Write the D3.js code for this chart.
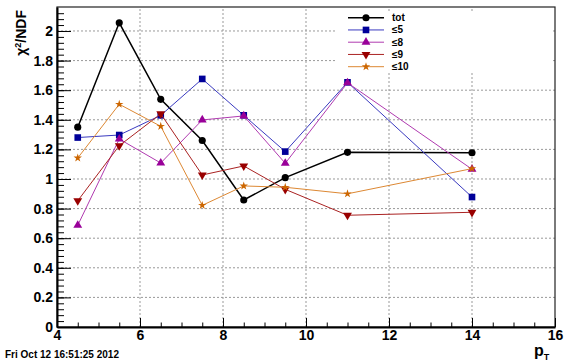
<!DOCTYPE html>
<html>
<head>
<meta charset="utf-8">
<script src="https://cdn.jsdelivr.net/npm/d3@7"></script>
<style>
  body { margin: 0; background: #fff; }
  svg { display: block; font-family: "Liberation Sans", Arial, sans-serif; }
</style>
</head>
<body>
<div id="chart"></div>
<script>
var pt = [4.5, 5.5, 6.5, 7.5, 8.5, 9.5, 11, 14];
var tot = [1.35, 2.055, 1.538, 1.26, 0.858, 1.009, 1.18, 1.177];
var le5 = [1.28, 1.297, 1.43, 1.676, 1.43, 1.185, 1.653, 0.878];
var le8 = [0.687, 1.27, 1.108, 1.399, 1.426, 1.106, 1.65, 1.066];
var le9 = [0.853, 1.225, 1.44, 1.027, 1.088, 0.93, 0.755, 0.775];
var le10 = [1.142, 1.505, 1.356, 0.822, 0.953, 0.944, 0.90, 1.07];
var seriesNames = ["tot", "\u22645", "\u22648", "\u22649", "\u226410"];
var xTicks = [4, 6, 8, 10, 12, 14, 16];
var yTicks = [0, 0.2, 0.4, 0.6, 0.8, 1, 1.2, 1.4, 1.6, 1.8, 2];

var width = 567, height = 364;
var series = [
  {name: seriesNames[0], v: tot,  color: "#000000", line: "#000000", lw: 1.5, sym: d3.symbolCircle, size: 40},
  {name: seriesNames[1], v: le5,  color: "#000099", line: "#3a3ac0", lw: 1,   sym: d3.symbolSquare, size: 44},
  {name: seriesNames[2], v: le8,  color: "#990099", line: "#b03ab0", lw: 1,   sym: d3.symbolTriangle, size: 34},
  {name: seriesNames[3], v: le9,  color: "#990000", line: "#aa2222", lw: 1,   sym: "down", size: 34},
  {name: seriesNames[4], v: le10, color: "#cc6600", line: "#dd8833", lw: 1,   sym: d3.symbolStar, size: 22}
];

var svg = d3.select("#chart")
  .append("svg")
    .attr("width", width)
    .attr("height", height);

var x = d3.scaleLinear().domain([4, 16]).range([57, 555]);
var y = d3.scaleLinear().domain([0, 2.162]).range([327, 7]);

// grid
svg.append("g").selectAll("line")
  .data(xTicks.slice(1, -1))
  .join("line")
    .attr("x1", d => x(d)).attr("x2", d => x(d))
    .attr("y1", y.range()[0]).attr("y2", y.range()[1])
    .attr("stroke", "#999").attr("stroke-dasharray", "2,2");
svg.append("g").selectAll("line")
  .data(yTicks.slice(1))
  .join("line")
    .attr("y1", d => y(d)).attr("y2", d => y(d))
    .attr("x1", x.range()[0]).attr("x2", x.range()[1])
    .attr("stroke", "#999").attr("stroke-dasharray", "2,2");

// frame
svg.append("rect")
  .attr("x", x(4)).attr("y", y.range()[1])
  .attr("width", x(16) - x(4)).attr("height", y(0) - y.range()[1])
  .attr("fill", "none").attr("stroke", "#222").attr("stroke-width", 1.2);

// axes: ticks inside the frame, ROOT style
var xMinor = d3.range(4, 16.01, 0.5);
svg.append("g")
  .attr("transform", "translate(0," + y(0) + ")")
  .call(d3.axisBottom(x).tickValues(xMinor).tickSize(-4.5).tickSizeOuter(0).tickFormat(""))
  .call(g => g.select(".domain").attr("stroke-width", 2));
svg.append("g")
  .attr("transform", "translate(0," + y(0) + ")")
  .call(d3.axisBottom(x).tickValues(xTicks).tickSize(-9).tickSizeOuter(0).tickPadding(3))
  .call(g => g.select(".domain").remove())
  .call(g => g.selectAll("text").attr("font-size", 14).attr("font-weight", "bold").attr("fill", "#000"));

var yMinor = d3.range(0, 2.16, 0.04);
svg.append("g")
  .attr("transform", "translate(" + x(4) + ",0)")
  .call(d3.axisLeft(y).tickValues(yMinor).tickSize(-7).tickSizeOuter(0).tickFormat(""))
  .call(g => g.select(".domain").attr("stroke-width", 2));
svg.append("g")
  .attr("transform", "translate(" + x(4) + ",0)")
  .call(d3.axisLeft(y).tickValues(yTicks).tickSize(-14).tickSizeOuter(0).tickPadding(4).tickFormat(d3.format("")))
  .call(g => g.select(".domain").remove())
  .call(g => g.selectAll("text").attr("font-size", 14).attr("font-weight", "bold").attr("fill", "#000"));

// series
function marker(sel, s) {
  if (s.sym === "down") {
    sel.attr("d", d3.symbol(d3.symbolTriangle, s.size)()).attr("transform", function() {
      return d3.select(this).attr("transform") + " rotate(180)";
    });
  } else {
    sel.attr("d", d3.symbol(s.sym, s.size)());
  }
}

var line = d3.line().x(d => x(d[0])).y(d => y(d[1]));
series.forEach(function(s) {
  var pts = pt.map((p, i) => [p, s.v[i]]);
  svg.append("path")
    .datum(pts)
    .attr("fill", "none")
    .attr("stroke", s.line)
    .attr("stroke-width", s.lw)
    .attr("d", line);
  svg.append("g").selectAll("path")
    .data(pts)
    .join("path")
      .attr("transform", d => "translate(" + x(d[0]) + "," + y(d[1]) + ")")
      .attr("fill", s.color)
      .each(function() { marker(d3.select(this), s); });
});

// legend
var lg = svg.append("g");
lg.append("rect")
  .attr("x", 337).attr("y", 11).attr("width", 214).attr("height", 61)
  .attr("fill", "#fff");
series.forEach(function(s, i) {
  var ly = 17.7 + i * 12.25;
  lg.append("line")
    .attr("x1", 348).attr("x2", 384).attr("y1", ly).attr("y2", ly)
    .attr("stroke", s.line).attr("stroke-width", s.lw);
  lg.append("path")
    .attr("transform", "translate(366," + ly + ")")
    .attr("fill", s.color)
    .call(sel => marker(sel, s));
  lg.append("text")
    .attr("x", 392).attr("y", ly + 3.5)
    .attr("font-size", 10).attr("font-weight", "bold")
    .text(s.name);
});

// titles
svg.append("text")
  .attr("transform", "translate(26,10) rotate(-90)")
  .attr("text-anchor", "end")
  .attr("font-size", 14).attr("font-weight", "bold")
  .html('\u03c7<tspan dy="-5" font-size="9">2</tspan><tspan dy="5">/NDF</tspan>');

svg.append("text")
  .attr("x", 534).attr("y", 356)
  .attr("font-size", 16).attr("font-weight", "bold")
  .html('p<tspan dy="4" font-size="9">T</tspan>');

svg.append("text")
  .attr("x", 5).attr("y", 358)
  .attr("font-size", 10).attr("font-weight", "bold")
  .text("Fri Oct 12 16:51:25 2012");
</script>
</body>
</html>
